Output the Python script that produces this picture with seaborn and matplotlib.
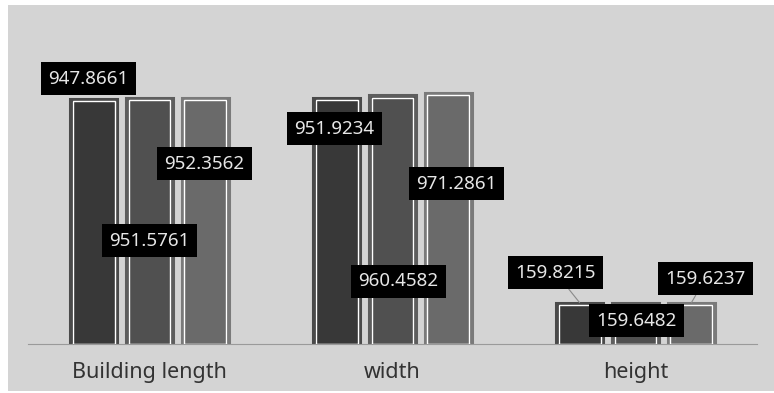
import numpy as np
import pandas as pd
import seaborn as sns
import matplotlib.pyplot as plt
from matplotlib.patches import Rectangle

# data
categories = ["Building length", "width", "height"]
series_names = ["s1", "s2", "s3"]
s1 = [947.8661, 951.9234, 159.8215]
s2 = [951.5761, 960.4582, 159.6482]
s3 = [952.3562, 971.2861, 159.6237]
labels = [["947.8661", "951.9234", "159.8215"],
          ["951.5761", "960.4582", "159.6482"],
          ["952.3562", "971.2861", "159.6237"]]

# style
fills = ["#383838", "#505050", "#6a6a6a"]
edges = ["#4a4a4a", "#5e5e5e", "#7a7a7a"]
# label offsets (pixels) from the top centre of each bar, per series / category
offsets = [[(-5, 20), (-2, -31), (-24, 30)],
           [(0, -143), (6, -186), (1, -18)],
           [(-1, -66), (8, -91), (14, 24)]]
leaders = [[False, False, True],
           [False, False, False],
           [False, False, True]]

df = pd.DataFrame({
    "cat": categories * 3,
    "series": [n for n in series_names for _ in categories],
    "val": s1 + s2 + s3,
})

sns.set_style("white")
plt.rcParams["font.family"] = ["Noto Sans", "DejaVu Sans"]

W, H = 774, 393
fig = plt.figure(figsize=(W / 100, H / 100), dpi=100)
fig.patch.set_facecolor("white")
fig.patches.append(Rectangle((8 / W, 2 / H), 766 / W, 386 / H, transform=fig.transFigure,
                             facecolor="#d4d4d4", edgecolor="none", zorder=-10))
ax = fig.add_axes([28 / W, (H - 344) / H, 729 / W, 339 / H])
ax.set_facecolor("none")

sns.barplot(data=df, x="cat", y="val", hue="series", hue_order=series_names,
            palette=fills, width=0.69, gap=0.17, saturation=1, legend=False, ax=ax)

ax.set_xlim(-0.5, 2.5)
ax.set_ylim(0, 1310)
px_x = 3 / 729
px_y = 1310 / 339

for i, cont in enumerate(ax.containers):
    for j, bar in enumerate(cont):
        bar.set_edgecolor(edges[i])
        bar.set_linewidth(2.2)
        x, w, h = bar.get_x(), bar.get_width(), bar.get_height()
        ax.add_patch(Rectangle((x + 2.2 * px_x, 0), w - 4.4 * px_x, h - 2.2 * px_y,
                               facecolor="none", edgecolor="white", linewidth=1.0, zorder=3))
        dx, dy = offsets[i][j]
        ap = dict(arrowstyle="-", color="#8a8a8a", lw=0.8, shrinkA=0, shrinkB=0) if leaders[i][j] else None
        ax.annotate(labels[i][j], xy=(x + w / 2, h), xytext=(dx, dy), textcoords="offset pixels",
                    ha="center", va="center", fontsize=13.5, color="#e6e6e6", zorder=5,
                    bbox=dict(boxstyle="square,pad=0.4", facecolor="black", edgecolor="none"),
                    arrowprops=ap)

ax.set_xlabel("")
ax.set_ylabel("")
ax.set_yticks([])
ax.tick_params(axis="x", length=0, pad=13, labelsize=15.5, labelcolor="#333333")
for s in ["top", "right", "left"]:
    ax.spines[s].set_visible(False)
ax.spines["bottom"].set_color("#9a9a9a")
ax.spines["bottom"].set_linewidth(0.8)

fig.savefig("out.png", dpi=100)
